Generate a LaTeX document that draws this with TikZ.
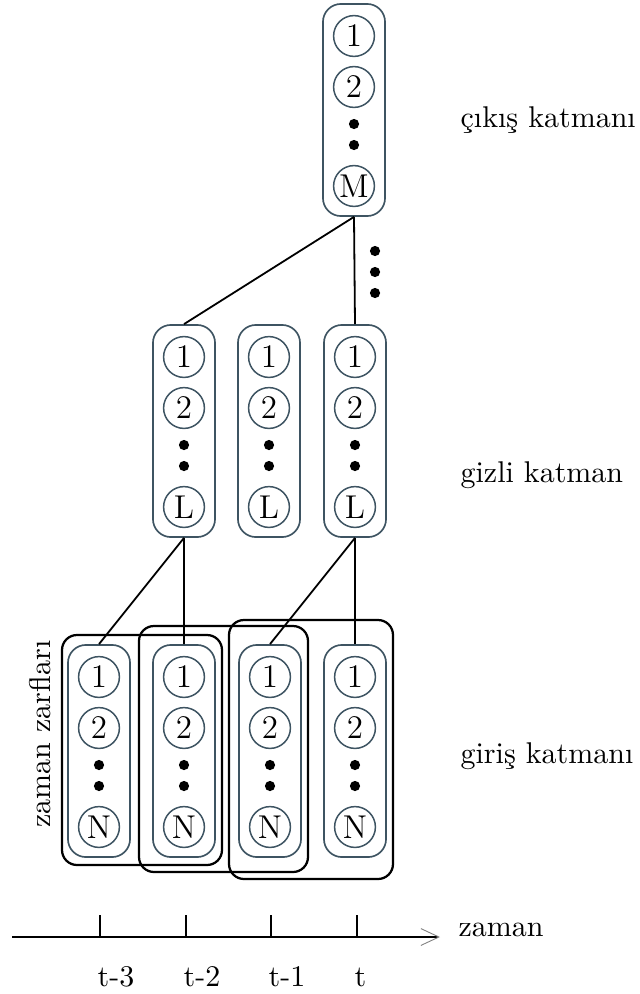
\documentclass[tikz,border=0pt]{standalone}
\usepackage{tikz}
\usetikzlibrary{arrows.meta}
\usetikzlibrary{positioning}
\definecolor{boxgray}{HTML}{3E5462}
\tikzset{
  neuron/.style={circle,draw=boxgray,line width=0.5pt,
    minimum size=13.6pt,inner sep=0pt,font=\fontsize{11}{13}\selectfont},
  dotnode/.style={circle,fill=black,minimum size=3.4pt,inner sep=0pt},
  layerbox/.style={draw=boxgray,line width=0.55pt,rounded corners=6pt,
    minimum width=20.7pt,minimum height=70.7pt,inner sep=0pt},
  windowbox/.style={draw=black,line width=0.75pt,rounded corners=5pt},
  link/.style={draw=black,line width=0.6pt},
  caption/.style={anchor=base west,inner sep=0pt}
}

% one column of units: name, x, top y, last label
\newcommand{\unitcol}[4]{
  \node[layerbox] (#1) at (#2,#3+106) {};
  \node[neuron] (#1-1) at (#2,#3+32) {1};
  \node[neuron] (#1-2) at (#2,#3+83) {2};
  \node[dotnode] (#1-d1) at (#2,#3+120) {};
  \node[dotnode] (#1-d2) at (#2,#3+141) {};
  \node[neuron] (#1-n) at (#2,#3+182) {#4};
}

\begin{document}
\begin{tikzpicture}[x=0.3333pt,y=-0.3333pt]
  \useasboundingbox (0,0) rectangle (640,994);

  % output layer
  \unitcol{Out}{354}{4}{M}
  % hidden layer
  \unitcol{Hid1}{184}{325}{L}
  \unitcol{Hid2}{269}{325}{L}
  \unitcol{Hid3}{355}{325}{L}
  % input layer
  \unitcol{In1}{99}{645}{N}
  \unitcol{In2}{184}{645}{N}
  \unitcol{In3}{270}{645}{N}
  \unitcol{In4}{355}{645}{N}

  % time windows
  \draw[windowbox] (62,635) rectangle (222,865);
  \draw[windowbox] (139,626) rectangle (308,872);
  \draw[windowbox] (229,620) rectangle (393,879);

  \path[link]
    (Out.south)  -- (Hid1.north)
    (Out.south)  -- (Hid3.north)
    (Hid1.south) -- (In1.north)
    (Hid1.south) -- (In2.north)
    (Hid3.south) -- (In3.north);
  \path[link,line width=0.9pt]
    (Hid3.south) -- (In4.north);

  \node[dotnode] (Skip1) at (375,251) {};
  \node[dotnode] (Skip2) at (375,272) {};
  \node[dotnode] (Skip3) at (375,293) {};

  \node[caption] (OutText) at (460,127) {çıkış katmanı};
  \node[caption] (HidText) at (460,482) {gizli katman};
  \node[caption] (InText)  at (460,763) {giriş katmanı};
  \node[rotate=90,anchor=base,inner sep=0pt] (WinText) at (50,734)
    {zaman zarfları};

  % time axis
  \coordinate (AxisL) at (12,937);
  \coordinate (AxisR) at (440,937);
  \draw[line width=0.6pt,
    -{Straight Barb[length=6pt,width=5.6pt,line width=0.3pt,color=gray]}]
    (AxisL) -- (AxisR);
  \foreach \x/\lab in {100/t-3,186/t-2,271/t-1,357/t} {
    \draw[line width=0.6pt] (\x,915) -- (\x,937);
    \node[caption] at (\x-3,986) {\lab};
  }
  \node[caption] (TimeText) at (458,936) {zaman};
\end{tikzpicture}
\end{document}
